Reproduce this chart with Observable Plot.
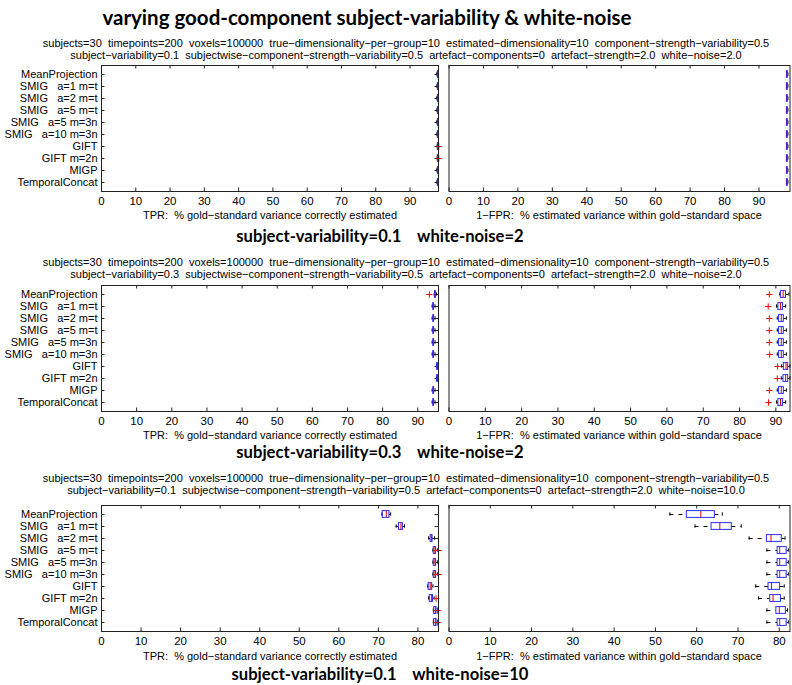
<!DOCTYPE html>
<html><head><meta charset="utf-8">
<script src="https://cdn.jsdelivr.net/npm/d3@7"></script>
<script src="https://cdn.jsdelivr.net/npm/@observablehq/plot@0.6"></script>
<style>
body{margin:0;background:#fff;}
#fig{position:relative;width:792px;height:685px;overflow:hidden;font-family:"Liberation Sans",Arial,sans-serif;color:#000;background:#fff;}
.t{position:absolute;white-space:pre;line-height:1;transform:translate(-50%,-50%);}
.title{font-family:Lato,sans-serif;font-weight:bold;font-size:20.5px;}
.sub{font-size:11px;}
.alab{font-size:11px;}
.btitle{font-family:Lato,sans-serif;font-weight:bold;font-size:16.6px;}
.plot{position:absolute;}
</style></head><body><div id="fig"></div>
<script>
const NB = "\u00a0\u00a0\u00a0";
const methods = ["MeanProjection", "SMIG"+NB+"a=1 m=t", "SMIG"+NB+"a=2 m=t", "SMIG"+NB+"a=5 m=t",
  "SMIG"+NB+"a=5 m=3n", "SMIG"+NB+"a=10 m=3n", "GIFT", "GIFT m=2n", "MIGP", "TemporalConcat"];

const mainTitle = "varying good-component subject-variability & white-noise";
const subLine1 = "subjects=30  timepoints=200  voxels=100000  true\u2212dimensionality\u2212per\u2212group=10  estimated\u2212dimensionality=10  component\u2212strength\u2212variability=0.5";
const subLine2 = [
  "subject\u2212variability=0.1  subjectwise\u2212component\u2212strength\u2212variability=0.5  artefact\u2212components=0  artefact\u2212strength=2.0  white\u2212noise=2.0",
  "subject\u2212variability=0.3  subjectwise\u2212component\u2212strength\u2212variability=0.5  artefact\u2212components=0  artefact\u2212strength=2.0  white\u2212noise=2.0",
  "subject\u2212variability=0.1  subjectwise\u2212component\u2212strength\u2212variability=0.5  artefact\u2212components=0  artefact\u2212strength=2.0  white\u2212noise=10.0"];
const blockTitles = ["subject-variability=0.1    white-noise=2", "subject-variability=0.3    white-noise=2", "subject-variability=0.1    white-noise=10"];
const tprLabel = "TPR:  % gold\u2212standard variance correctly estimated";
const fprLabel = "1\u2212FPR:  % estimated variance within gold\u2212standard space";

const ticks90 = [0,10,20,30,40,50,60,70,80,90];
const ticks80 = [0,10,20,30,40,50,60,70,80];

// each row: [whisker-low, q1, median, q3, whisker-high], in methods order
const tpr1 = [[97.8,98.1,98.2,98.25,98.3],[97.8,98.1,98.2,98.25,98.3],[97.8,98.1,98.2,98.25,98.3],[97.8,98.1,98.2,98.25,98.3],[97.8,98.1,98.2,98.25,98.3],
  [97.8,98.1,98.2,98.25,98.3],[97.9,98.1,98.2,98.25,98.3],[97.9,98.1,98.2,98.25,98.3],[97.8,98.1,98.2,98.25,98.3],[97.8,98.1,98.2,98.25,98.3]];
const tpr1Out = [[6,98.4],[7,98.4]];
const fpr1 = [[98.0,98.1,98.2,98.3,98.4],[98.0,98.1,98.2,98.3,98.4],[98.0,98.1,98.2,98.3,98.4],[98.0,98.1,98.2,98.3,98.4],[98.0,98.1,98.2,98.3,98.4],
  [98.0,98.1,98.2,98.3,98.4],[98.0,98.1,98.2,98.3,98.4],[98.0,98.1,98.2,98.3,98.4],[98.0,98.1,98.2,98.3,98.4],[98.0,98.1,98.2,98.3,98.4]];
const fpr1Out = [];

const tpr2 = [[94.7,94.9,95.0,95.1,95.3],[94.1,94.4,94.5,94.6,94.9],[94.1,94.4,94.5,94.6,94.9],[94.1,94.4,94.5,94.6,94.9],[94.1,94.4,94.5,94.6,94.9],
  [94.1,94.4,94.5,94.6,94.9],[95.3,95.5,95.6,95.7,95.9],[95.3,95.5,95.6,95.7,95.9],[94.1,94.4,94.5,94.6,94.9],[94.1,94.4,94.5,94.6,94.9]];
const tpr2Out = [[0,93.3]];
const fpr2 = [[91.1,91.4,92.0,92.8,93.6],[90.2,90.7,91.3,92.0,92.7],[90.4,90.9,91.5,92.2,92.9],[90.4,90.9,91.5,92.2,92.9],[90.4,90.9,91.5,92.2,92.9],
  [90.4,90.9,91.5,92.2,92.9],[91.6,92.2,92.8,93.4,93.9],[91.5,92.1,92.7,93.4,93.9],[90.4,90.9,91.5,92.2,92.9],[90.2,90.7,91.3,92.0,92.7]];
const fpr2Out = [[0,88.2],[1,87.9],[2,88.2],[3,88.2],[4,88.2],[5,88.3],[6,90.5],[7,90.4],[8,88.2],[9,88.0]];

const tpr3 = [[70.9,71.1,72.0,72.8,73.1],[74.5,75.2,75.7,76.2,76.6],[82.7,83.2,83.4,83.7,84.2],[83.8,84.0,84.3,84.6,84.9],[83.8,84.0,84.3,84.6,84.9],
  [83.8,84.0,84.3,84.6,84.9],[82.5,82.7,83.1,83.6,83.8],[82.7,83.0,83.4,83.8,84.1],[83.9,84.1,84.4,84.7,84.9],[83.9,84.1,84.4,84.7,84.9]];
const tpr3Out = [[3,85.2],[5,85.2],[7,84.6],[8,85.0],[9,85.0]];
const fpr3 = [[53.5,57.6,61.0,64.4,66.2],[59.6,63.6,65.6,68.5,70.8],[72.7,77.0,78.0,80.6,81.4],[77.0,79.6,80.1,81.8,82.2],[77.0,79.6,80.1,81.8,82.2],
  [77.0,79.6,80.1,81.8,82.2],[74.3,77.4,78.1,80.2,81.2],[75.0,77.8,78.5,80.4,81.2],[77.0,79.3,80.0,81.6,82.0],[77.0,79.6,80.1,81.8,82.2]];
const fpr3Out = [];

const domains = {tpr1:[0,98.3], fpr1:[0,99], tpr2:[0,95.9], fpr2:[0,93.9], tpr3:[0,85.2], fpr3:[0,82.6]};

const fig = document.getElementById("fig");
function text(cls, str, x, y) {
  const d = document.createElement("div");
  d.className = "t " + cls; d.textContent = str;
  d.style.left = x + "px"; d.style.top = y + "px";
  fig.appendChild(d);
}

const FH = 126;
function panel(stats, outs, domain, ticks, isLeft, frameTop) {
  const rows = stats.map((s, i) => ({m: methods[i], lo: s[0], q1: s[1], med: s[2], q3: s[3], hi: s[4]}));
  const ol = outs.map(([i, v]) => ({m: methods[i], v}));
  const frameW = isLeft ? 337 : 341;
  const mL = isLeft ? 101 : 2.5, mR = 2.5, mT = 4, mB = 30;
  const marks = [
    Plot.ruleX(ticks, {x: d => d, insetBottom: FH - 3.5, stroke: "#222"}),
    Plot.ruleX(ticks, {x: d => d, insetTop: FH - 3.5, stroke: "#222"}),
    Plot.axisX({ticks, anchor: "bottom", tickSize: 0, tickPadding: 5, fontSize: 11.5}),
    Plot.ruleY(rows, {y: "m", x1: "lo", x2: "q1", stroke: "#000", strokeDasharray: "4,5"}),
    Plot.ruleY(rows, {y: "m", x1: "q3", x2: "hi", stroke: "#000", strokeDasharray: "4,5"}),
    Plot.tickX(rows, {x: "lo", y: "m", stroke: "#000", insetTop: 4.3, insetBottom: 4.3}),
    Plot.tickX(rows, {x: "hi", y: "m", stroke: "#000", insetTop: 4.3, insetBottom: 4.3}),
    Plot.barX(rows, {x1: "q1", x2: "q3", y: "m", fill: "none", stroke: "#2b2bff", insetTop: 2.6, insetBottom: 2.6}),
    Plot.tickX(rows, {x: "med", y: "m", stroke: "#e00000", insetTop: 2.6, insetBottom: 2.6}),
    Plot.dot(ol, {x: "v", y: "m", symbol: "plus", r: 2.2, stroke: "#ff0000", strokeWidth: 1}),
    Plot.frame({stroke: "#222"})
  ];
  if (isLeft) {
    marks.unshift(
      Plot.axisY({anchor: "left", tickSize: 0, tickPadding: 4, fontSize: 11}),
      Plot.ruleY(methods, {y: d => d, insetRight: frameW - 3.5, stroke: "#222"}),
      Plot.ruleY(methods, {y: d => d, insetLeft: frameW - 3.5, stroke: "#222"})
    );
  }
  const p = Plot.plot({
    width: mL + frameW + mR, height: mT + FH + mB,
    marginLeft: mL, marginRight: mR, marginTop: mT, marginBottom: mB,
    style: {fontFamily: "Liberation Sans, Arial, sans-serif", fontSize: "11px", background: "transparent", overflow: "visible", color: "#000"},
    x: {domain},
    y: {domain: methods, padding: 0, axis: isLeft ? undefined : null, label: null},
    marks
  });
  p.classList.add("plot");
  p.style.left = (isLeft ? 0 : 446) + "px";
  p.style.top = (frameTop - mT) + "px";
  fig.appendChild(p);
}

text("title", mainTitle, 367, 17);
const blocks = [
  {frameTop: 65, sub: [43, 55], tick: 201, lab: 215, bt: 236, tpr: tpr1, tprO: tpr1Out, fpr: fpr1, fprO: fpr1Out, dt: domains.tpr1, df: domains.fpr1, tt: ticks90, tf: ticks90},
  {frameTop: 285, sub: [262, 274], tick: 421, lab: 435, bt: 452, tpr: tpr2, tprO: tpr2Out, fpr: fpr2, fprO: fpr2Out, dt: domains.tpr2, df: domains.fpr2, tt: ticks90, tf: ticks90},
  {frameTop: 505, sub: [478, 490], tick: 641, lab: 656, bt: 674, tpr: tpr3, tprO: tpr3Out, fpr: fpr3, fprO: fpr3Out, dt: domains.tpr3, df: domains.fpr3, tt: ticks80, tf: ticks80}
];
blocks.forEach((b, k) => {
  text("sub", subLine1, 406, b.sub[0]);
  text("sub", subLine2[k], 406, b.sub[1]);
  panel(b.tpr, b.tprO, b.dt, b.tt, true, b.frameTop);
  panel(b.fpr, b.fprO, b.df, b.tf, false, b.frameTop);
  text("alab", tprLabel, 270, b.lab);
  text("alab", fprLabel, 619, b.lab);
  text("btitle", blockTitles[k], 380, b.bt);
});
</script></body></html>
